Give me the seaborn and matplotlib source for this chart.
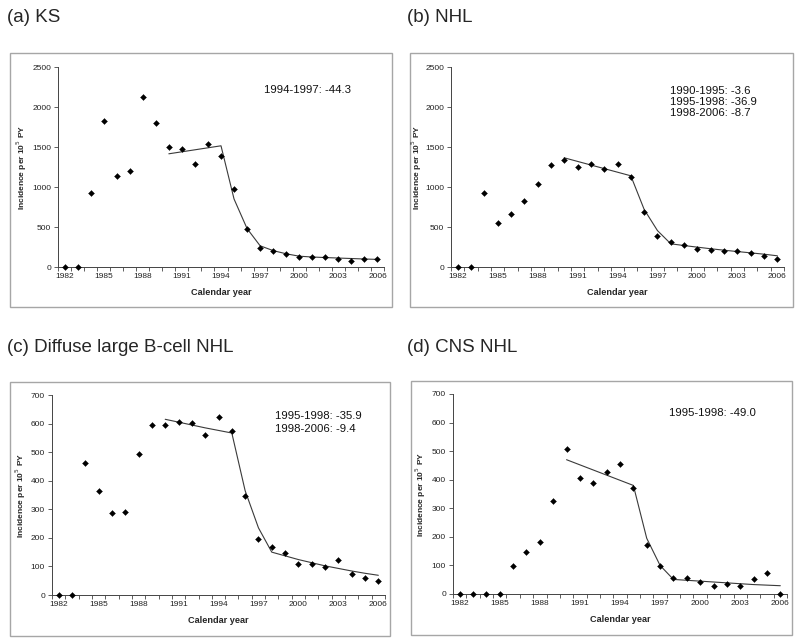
import matplotlib
matplotlib.use("Agg")
import matplotlib.pyplot as plt
import seaborn as sns
import pandas as pd
from matplotlib.patches import Rectangle
from matplotlib.ticker import FixedLocator

years = [1982, 1983, 1984, 1985, 1986, 1987, 1988, 1989, 1990, 1991, 1992, 1993,
         1994, 1995, 1996, 1997, 1998, 1999, 2000, 2001, 2002, 2003, 2004, 2005, 2006]
fit_years = [1990, 1991, 1992, 1993, 1994, 1995, 1996, 1997, 1998, 1999, 2000,
             2001, 2002, 2003, 2004, 2005, 2006]

ks_obs = [0, 0, 920, 1830, 1140, 1200, 2130, 1800, 1500, 1480, 1290, 1540, 1390,
          980, 475, 235, 200, 160, 130, 120, 130, 100, 80, 100, 100]
ks_fit = [1415, 1440, 1465, 1490, 1515, 850, 480, 265, 205, 165, 135, 125, 118,
          112, 106, 100, 95]

nhl_obs = [0, 0, 920, 550, 665, 820, 1040, 1280, 1335, 1250, 1285, 1225, 1285,
           1125, 690, 390, 315, 280, 230, 215, 195, 195, 180, 135, 105]
nhl_fit = [1365, 1320, 1275, 1230, 1185, 1140, 720, 455, 290, 268, 248, 228, 210,
           193, 177, 160, 140]

dlbcl_obs = [0, 0, 462, 365, 287, 289, 494, 596, 596, 604, 602, 560, 624, 573, 347,
             195, 167, 147, 110, 107, 97, 121, 75, 59, 48]
dlbcl_fit = [615, 605, 595, 585, 576, 567, 365, 235, 150, 137, 124, 113, 102, 93,
             84, 76, 69]

cns_obs = [0, 0, 0, 0, 97, 146, 183, 327, 509, 405, 389, 426, 456, 370, 170, 98,
           55, 55, 42, 28, 34, 27, 52, 75, 0]
cns_fit = [470, 452, 434, 416, 398, 380, 195, 100, 51, 48, 45, 42, 39, 36, 33, 31, 29]

titles = ["(a) KS", "(b) NHL", "(c) Diffuse large B-cell NHL", "(d) CNS NHL"]
annotations = [["1994-1997: -44.3"],
               ["1990-1995: -3.6", "1995-1998: -36.9", "1998-2006: -8.7"],
               ["1995-1998: -35.9", "1998-2006: -9.4"],
               ["1995-1998: -49.0"]]
ymaxes = [2500, 2500, 700, 700]
ysteps = [500, 500, 100, 100]
xtick_labels = [1982, 1985, 1988, 1991, 1994, 1997, 2000, 2003, 2006]

sns.set_style("white")
plt.rcParams["font.family"] = ["Liberation Sans", "DejaVu Sans"]

W, H = 800, 644
fig = plt.figure(figsize=(W / 100, H / 100), dpi=100)

def fx(px):
    return px / W

def fy(py):
    return 1 - py / H

# (left, right, top, bottom) in pixels for axes
axes_px = [(58, 384, 67, 267), (451, 784, 67, 267),
           (52, 385, 395, 595), (453, 787, 394, 594)]
frames_px = [(10, 53, 392, 307), (410, 53, 793, 307),
             (10, 382, 390, 636), (411, 381, 792, 635)]
title_px = [(7, 17), (407, 17), (7, 347), (407, 347)]
ann_px = [(264, 90, 11), (670, 91, 11), (275, 416, 13), (669, 413, 13)]
ylab_x = [22, 417, 21, 421]

obs_list = [ks_obs, nhl_obs, dlbcl_obs, cns_obs]
fit_list = [ks_fit, nhl_fit, dlbcl_fit, cns_fit]

for i in range(4):
    x0, y0, x1, y1 = frames_px[i]
    fig.patches.append(Rectangle((fx(x0), fy(y1)), fx(x1 - x0), (y1 - y0) / H,
                                 transform=fig.transFigure, fill=False,
                                 edgecolor="#a6a6a6", linewidth=1.0))
    tx, ty = title_px[i]
    fig.text(fx(tx), fy(ty), titles[i], fontsize=13.5, va="center", ha="left")

    l, r, t, b = axes_px[i]
    ax = fig.add_axes([fx(l), fy(b), fx(r - l), (b - t) / H])
    ax.set_facecolor("none")
    df_obs = pd.DataFrame({"year": years, "value": obs_list[i]})
    df_fit = pd.DataFrame({"year": fit_years, "value": fit_list[i]})
    sns.lineplot(data=df_fit, x="year", y="value", ax=ax, color="#3a3a3a",
                 linewidth=0.8)
    sns.scatterplot(data=df_obs, x="year", y="value", ax=ax, marker="D",
                    s=9, color="black", edgecolor="black", linewidth=0.3,
                    zorder=3, clip_on=False)
    ax.set_xlim(1981.5, 2006.5)
    ax.set_ylim(0, ymaxes[i])
    ax.set_yticks(list(range(0, ymaxes[i] + 1, ysteps[i])))
    ax.set_xticks(xtick_labels)
    ax.set_xticklabels([str(v) for v in xtick_labels])
    ax.xaxis.set_minor_locator(FixedLocator([y - 0.5 for y in years] + [2006.5]))
    ax.tick_params(axis="x", which="major", length=0, labelsize=6, pad=4,
                   colors="#222222")
    ax.tick_params(axis="x", which="minor", length=3, width=0.6, color="#444444",
                   direction="out", bottom=True)
    ax.tick_params(axis="y", which="major", length=3, width=0.6, labelsize=6,
                   pad=2, color="#444444", labelcolor="#222222", left=True)
    for s in ["top", "right"]:
        ax.spines[s].set_visible(False)
    for s in ["left", "bottom"]:
        ax.spines[s].set_color("#444444")
        ax.spines[s].set_linewidth(0.7)
    ax.set_xlabel("Calendar year", fontsize=6.6, fontweight="bold", labelpad=6)
    ax.set_ylabel("")
    fig.text(fx(ylab_x[i]), fy((t + b) / 2), "Incidence per 10$^{5}$ PY",
             rotation=90, fontsize=6, fontweight="bold", va="center", ha="center")

    axx, axy, step = ann_px[i]
    for k, line in enumerate(annotations[i]):
        fig.text(fx(axx), fy(axy + k * step), line, fontsize=8.2,
                 va="center", ha="left", color="#111111")

fig.savefig("out.png", dpi=100)
